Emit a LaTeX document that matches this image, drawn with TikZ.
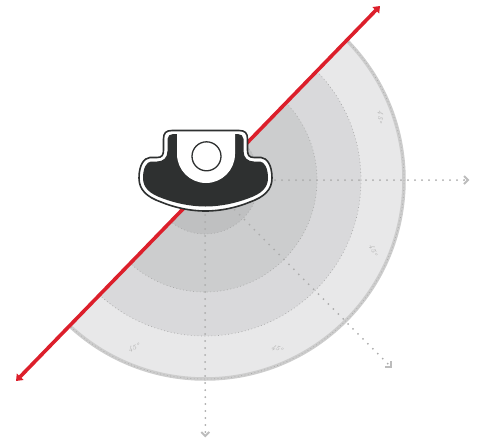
\documentclass[tikz,border=0pt]{standalone}
\usepackage{tikz}
\usetikzlibrary{arrows.meta,calc}

\definecolor{ringa}{HTML}{E8E8E9}
\definecolor{ringb}{HTML}{D9D9DB}
\definecolor{ringc}{HTML}{CCCDCE}
\definecolor{ringd}{HTML}{BFC0C1}
\definecolor{rimgrey}{HTML}{CDCDCD}
\definecolor{dotgrey}{HTML}{ABABAB}
\definecolor{bladered}{HTML}{DC1F2B}
\definecolor{bodydark}{HTML}{2E3030}

\begin{document}
\begin{tikzpicture}[
  x=1pt, y=-1pt,
  ring/.style={draw=dotgrey, line width=0.7pt, dash pattern=on 0.8pt off 2.6pt},
  axis/.style={draw=dotgrey, line width=2pt, line cap=round, dash pattern=on 0pt off 7pt},
  tip/.style={draw=dotgrey!80, line width=2pt, line cap=butt},
  angle/.style={text=dotgrey, font=\itshape\fontsize{7}{7}\selectfont, inner sep=0pt},
  outline/.style={draw=bodydark, line width=1.6pt, fill=white}
]
\useasboundingbox (0,0) rectangle (479,440);

% Centre of the rings
\coordinate (hub) at (205,180);

% Rings, cut along the red line
\begin{scope}
  \clip (378,7) -- (17,380) -- (17,440) -- (479,440) -- (479,7) -- cycle;
  \fill[ringa] (hub) circle (199);
  \draw[rimgrey, line width=3.5pt] (hub) circle (199);
  \draw[ring] (hub) circle (199);
  \fill[ringb] (hub) circle (156);
  \draw[ring] (hub) circle (156);
  \fill[ringc] (hub) circle (112);
  \draw[ring] (hub) circle (112);
  \fill[ringd] (hub) circle (54);
  \draw[ring] (hub) circle (54);
\end{scope}

% Ends of the axes
\coordinate (eastend) at (468,180);
\coordinate (southend) at (205.3,436);
\coordinate (diagend) at (391,367);

% Axes
\draw[axis] (hub) -- (eastend);
\draw[axis] (hub) -- (southend);
\draw[axis] (hub) -- (diagend);
\draw[tip] ($(eastend)+(-4,-4)$) -- ++(4,4) -- ++(-4,4);
\draw[tip] ($(southend)+(-4,-4)$) -- ++(4,4) -- ++(4,-4);
\draw[tip] ($(diagend)+(-6,0)$) -- ++(6,0) -- ++(0,-6);

% Angle labels
\node[angle, rotate=-100] (labeltop) at (380,117) {45°};
\node[angle, rotate=-72] (labelside) at (373,250) {45°};
\node[angle, rotate=-25] (labelright) at (277,349) {45°};
\node[angle, rotate=15] (labelleft) at (134,348) {45°};

% Red line
\coordinate (bladeend) at (380,6);
\coordinate (bladestart) at (16,381);
\draw[bladered, line width=3.6pt, {Stealth[length=6pt,width=9pt,inset=0pt]}-{Stealth[length=6pt,width=9pt,inset=0pt]}] (bladestart) -- (bladeend);

% Body
\draw[outline] (172,130.5) -- (239,130.5)
  .. controls (245,130.5) and (247.5,133) .. (247.5,139)
  -- (247.5,150) .. controls (247.5,155) and (249,157.5) .. (254,157.5)
  -- (261,157.5) .. controls (267,158) and (272,165) .. (272,178)
  .. controls (272,190) and (264,197) .. (250,202)
  .. controls (238,207) and (222,211) .. (205.5,211)
  .. controls (189,211) and (173,207) .. (161,202)
  .. controls (147,197) and (139,190) .. (139,178)
  .. controls (139,165) and (144,158) .. (150,157.5)
  -- (157,157.5) .. controls (162,157.5) and (163.5,155) .. (163.5,150)
  -- (163.5,139) .. controls (163.5,133) and (166,130.5) .. (172,130.5) -- cycle;
\fill[bodydark] (173,134) -- (238,134)
  .. controls (241,134) and (243.5,136) .. (243.5,139)
  -- (243.5,151) .. controls (243.5,158) and (248,161.5) .. (254,161.5)
  -- (260,161.5) .. controls (264.5,162) and (268,168) .. (268,178)
  .. controls (268,188) and (261,194) .. (248,198.5)
  .. controls (236,203) and (221,206.5) .. (205.5,206.5)
  .. controls (190,206.5) and (175,203) .. (163,198.5)
  .. controls (150,194) and (143,188) .. (143,178)
  .. controls (143,168) and (146.5,162) .. (151,161.5)
  -- (157,161.5) .. controls (163,161.5) and (167.5,158) .. (167.5,151)
  -- (167.5,139) .. controls (167.5,136) and (170,134) .. (173,134) -- cycle;
\fill[white] (177,134) -- (235,134) -- (235,154)
  .. controls (235,170) and (222,183) .. (206,183)
  .. controls (190,183) and (177,170) .. (177,154) -- cycle;
\node[circle, draw=bodydark, line width=1.3pt, fill=white, minimum size=29pt, inner sep=0pt] (knob) at (206.5,156.3) {};
\end{tikzpicture}
\end{document}
